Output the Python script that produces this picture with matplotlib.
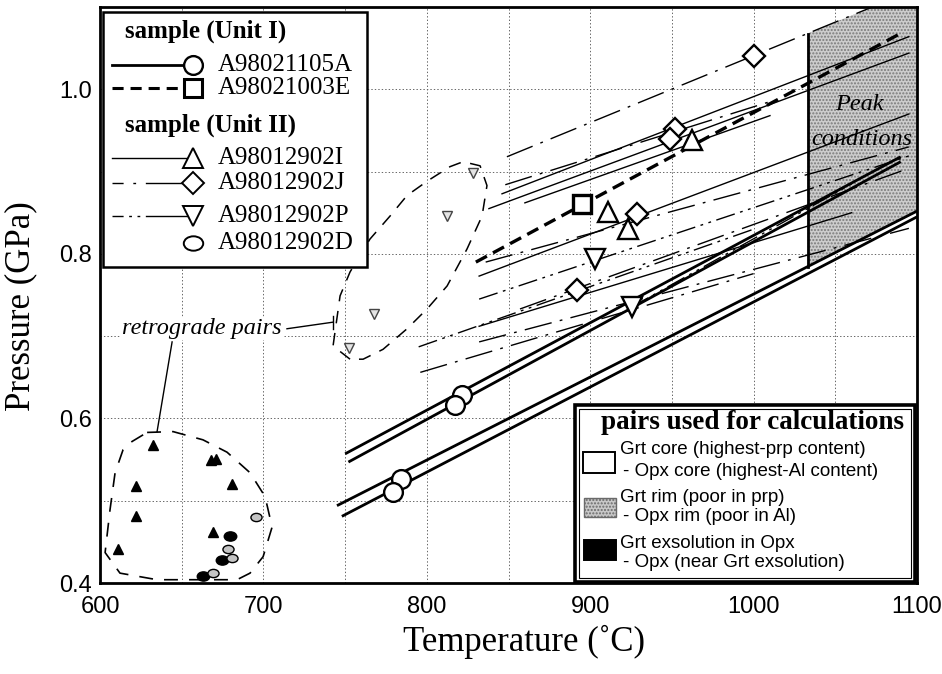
import numpy as np
import matplotlib
matplotlib.use('Agg')
import matplotlib.pyplot as plt
from matplotlib.patches import Rectangle, Polygon
from matplotlib.path import Path
from matplotlib.transforms import Affine2D

plt.rcParams['lines.scale_dashes'] = False

SERIF = ['Liberation Serif', 'DejaVu Serif']
SANS = ['Liberation Sans', 'DejaVu Sans']

# each line: (T1, P1, T2, P2)
# A98021105A - thick double lines (Unit I)
a_lines = [(750, 0.557, 1090, 0.918), (752, 0.547, 1090, 0.912),
           (745, 0.494, 1100, 0.852), (748, 0.481, 1100, 0.845)]
a_T = [821.5, 817, 784, 779]
a_P = [0.628, 0.616, 0.527, 0.510]

# A98021003E - thick dashed
e_lines = [(830, 0.790, 1090, 1.068)]
e_T = [895]
e_P = [0.860]

# A98012902I - thin solid
i_lines = [(846, 0.873, 1095, 1.064), (838, 0.855, 1095, 1.044),
           (832, 0.773, 1095, 0.970), (832, 0.712, 1060, 0.850),
           (860, 0.862, 1010, 0.968)]
i_T = [911, 923, 962]
i_P = [0.851, 0.830, 0.938]

# A98012902J - dash-dot
j_lines = [(849, 0.918, 1075, 1.102), (848, 0.884, 1010, 0.985),
           (857, 0.733, 1095, 0.904), (836, 0.790, 1095, 0.930),
           (796, 0.656, 1000, 0.776), (832, 0.693, 1095, 0.831)]
j_T = [1000, 952, 949, 928.6, 892]
j_P = [1.040, 0.952, 0.940, 0.849, 0.756]

# A98012902P - dash-dot-dot
p_lines = [(832, 0.745, 1095, 0.919), (795, 0.687, 1000, 0.830),
           (925, 0.735, 1060, 0.885)]
p_T = [903, 925.4]
p_P = [0.794, 0.735]
p_rim_T = [828.3, 812.4, 767.7, 752.4]
p_rim_P = [0.898, 0.846, 0.727, 0.685]

# exsolution pairs (filled triangles) and A98012902D
ex_tri_T = [632.2, 622, 622, 611.2, 667.7, 671, 680.6, 669.4]
ex_tri_P = [0.568, 0.518, 0.481, 0.441, 0.549, 0.551, 0.520, 0.462]
d_ex_T = [679.6, 674.9, 663.2]
d_ex_P = [0.457, 0.428, 0.409]
d_rim_T = [695.5, 678.5, 680.6, 669.0]
d_rim_P = [0.480, 0.441, 0.431, 0.412]

# retrograde outlines
loop_low_T = [628.8, 644.7, 663.0, 677.7, 691.8, 701.0, 705.3, 699.8, 691.8, 683.8,
              634.9, 612.2, 603.1, 606.1, 609.2, 614.1, 619.6, 628.8]
loop_low_P = [0.583, 0.584, 0.574, 0.559, 0.534, 0.505, 0.468, 0.432, 0.412, 0.404,
              0.404, 0.412, 0.437, 0.489, 0.534, 0.562, 0.572, 0.583]
loop_up_T = [753.0, 742.6, 746.9, 753.0, 765.2, 777.5, 787.9, 800.7, 814.2, 822.2,
             832.6, 836.8, 833.8, 824.6, 812.4, 800.1, 787.9, 773.2, 761.0, 753.0]
loop_up_P = [0.672, 0.688, 0.749, 0.778, 0.818, 0.846, 0.871, 0.889, 0.906, 0.912,
             0.907, 0.883, 0.846, 0.806, 0.761, 0.733, 0.709, 0.684, 0.672, 0.672]

peak_T0 = 1033

fig = plt.figure(figsize=(9.42, 6.74), dpi=100)
ax = fig.add_axes([0.1062, 0.135, 0.8673, 0.8546])
ax.set_xlim(600, 1100)
ax.set_ylim(0.4, 1.1)

ax.set_xticks([600, 700, 800, 900, 1000, 1100])
ax.set_xticks([650, 750, 850, 950, 1050], minor=True)
ax.set_yticks([0.4, 0.6, 0.8, 1.0])
ax.set_yticklabels(['0.4', '0.6', '0.8', '1.0'])
ax.set_yticks([0.5, 0.7, 0.9], minor=True)
ax.set_axisbelow(True)
ax.grid(which='both', color='#666666', ls=(0, (1, 1.5)), lw=0.7)
ax.tick_params(which='both', length=0)
ax.tick_params(axis='x', pad=9)
ax.tick_params(axis='y', pad=6)
for lab in ax.get_xticklabels() + ax.get_yticklabels():
    lab.set_family(SANS)
    lab.set_fontsize(17)
for s in ax.spines.values():
    s.set_linewidth(2)

# peak conditions area
a_low = a_lines[2]
j_top = j_lines[0]
tt = np.linspace(peak_T0, 1100, 60)
lower = np.interp(tt, [a_low[0], a_low[2]], [a_low[1], a_low[3]])
upper = np.minimum(np.interp(tt, [j_top[0], j_top[2]], [j_top[1], j_top[3]]), 1.1)
poly = np.column_stack([np.r_[tt, tt[::-1]], np.r_[lower, upper[::-1]]])
ax.add_patch(Polygon(poly, closed=True, facecolor='#cdcdcd', edgecolor='#7a7a7a',
                     hatch='.....', lw=0, zorder=1))
ax.plot([peak_T0, peak_T0], [lower[0], upper[0]], color='k', lw=2, zorder=3)
ax.text(1065, 0.982, 'Peak', family=SERIF, style='italic', fontsize=17.5,
        ha='center', va='center', zorder=6)
ax.text(1066, 0.939, 'conditions', family=SERIF, style='italic', fontsize=17.5,
        ha='center', va='center', zorder=6)

thick_solid = dict(color='k', lw=2.0, solid_capstyle='butt', zorder=4)
thick_dash = dict(color='k', lw=2.4, dashes=(9, 5), zorder=4)
thin_solid = dict(color='k', lw=1.0, zorder=3)
dash_dot = dict(color='k', lw=1.0, dashes=(20, 6, 2, 6), zorder=3)
dash_dot_dot = dict(color='k', lw=1.0, dashes=(14, 4, 2, 4, 2, 4), zorder=3)


def seg(line, style):
    ax.plot([line[0], line[2]], [line[1], line[3]], **style)


for ln in a_lines:
    seg(ln, thick_solid)
for ln in e_lines:
    seg(ln, thick_dash)
for ln in i_lines:
    seg(ln, thin_solid)
for ln in j_lines:
    seg(ln, dash_dot)
for ln in p_lines:
    seg(ln, dash_dot_dot)

ell = Path.unit_circle().transformed(Affine2D().scale(1.35, 1.0))

open_mk = dict(ls='none', mfc='white', mec='k', mew=1.7, zorder=5)
ax.plot(a_T, a_P, marker='o', ms=13.5, **open_mk)
ax.plot(e_T, e_P, marker='s', ms=13, ls='none', mfc='white', mec='k', mew=2.4, zorder=5)
ax.plot(i_T, i_P, marker='^', ms=14, **open_mk)
ax.plot(j_T, j_P, marker='D', ms=11, **open_mk)
ax.plot(p_T, p_P, marker='v', ms=14, **open_mk)
ax.plot(p_rim_T, p_rim_P, marker='v', ms=7, ls='none', mfc='#e4e4e4', mec='#444444',
        mew=1.0, zorder=5)
ax.plot(ex_tri_T, ex_tri_P, marker='^', ms=7, ls='none', color='k', zorder=5)
ax.plot(d_ex_T, d_ex_P, marker=ell, ms=9, ls='none', color='k', zorder=5)
ax.plot(d_rim_T, d_rim_P, marker=ell, ms=8, ls='none', mfc='#c4c4c4', mec='k',
        mew=1.0, zorder=5)

# retrograde outlines
ax.plot(loop_low_T, loop_low_P, color='k', lw=1.2, dashes=(10, 8), zorder=3)
ax.plot(loop_up_T, loop_up_P, color='k', lw=1.1, dashes=(9, 7), zorder=3)
ax.text(662.4, 0.709, 'retrograde pairs', family=SERIF, style='italic', fontsize=17.5,
        ha='center', va='center', zorder=6,
        bbox=dict(facecolor='white', edgecolor='none', pad=0.5))
ax.plot([714.4, 742.6], [0.709, 0.717], color='k', lw=1.0, zorder=6)
ax.plot([742.6, 742.6], [0.709, 0.725], color='k', lw=1.0, zorder=6)
ax.plot([644.1, 634.9], [0.693, 0.584], color='k', lw=1.0, zorder=6)

# sample legend (top left)
tr = ax.transAxes
ax.add_patch(Rectangle((0.004, 0.549), 0.323, 0.442, transform=tr, facecolor='white',
                       edgecolor='k', lw=1.8, zorder=10))
leg_x0, leg_x1, leg_mx, leg_tx = 0.0147, 0.110, 0.114, 0.144
ax.text(0.0306, 0.957, 'sample (Unit I)', transform=tr, family=SERIF, weight='bold',
        fontsize=18, ha='left', va='center', zorder=11)
ax.text(0.0306, 0.795, 'sample (Unit II)', transform=tr, family=SERIF, weight='bold',
        fontsize=18, ha='left', va='center', zorder=11)
leg_rows = [
    (0.899, 'A98021105A', dict(color='k', lw=2.0), 'o', 13.5, 1.7),
    (0.859, 'A98021003E', dict(color='k', lw=2.2, dashes=(8, 5)), 's', 13, 2.2),
    (0.738, 'A98012902I', dict(color='k', lw=1.0), '^', 14, 1.4),
    (0.694, 'A98012902J', dict(color='k', lw=1.0, dashes=(8, 7, 2, 7, 40, 0)), 'D', 11, 1.4),
    (0.637, 'A98012902P', dict(color='k', lw=1.0, dashes=(8, 4, 2, 4, 2, 4, 40, 0)), 'v', 14, 1.4),
]
for y, name, st, mk, ms, mew in leg_rows:
    ax.plot([leg_x0, leg_x1], [y, y], transform=tr, clip_on=False, zorder=11, **st)
    ax.plot([leg_mx], [y], transform=tr, marker=mk, ms=ms, mfc='white', mec='k',
            mew=mew, ls='none', clip_on=False, zorder=12)
    ax.text(leg_tx, y, name, transform=tr, family=SERIF, fontsize=18, ha='left',
            va='center', zorder=11)
ax.plot([leg_mx], [0.590], transform=tr, marker=ell, ms=14, mfc='white', mec='k',
        mew=1.4, ls='none', clip_on=False, zorder=12)
ax.text(leg_tx, 0.590, 'A98012902D', transform=tr, family=SERIF, fontsize=18,
        ha='left', va='center', zorder=11)

# pairs legend (bottom right)
ax.add_patch(Rectangle((0.581, 0.002), 0.417, 0.307, transform=tr, facecolor='white',
                       edgecolor='k', lw=2.6, zorder=10))
ax.add_patch(Rectangle((0.586, 0.009), 0.407, 0.293, transform=tr, facecolor='none',
                       edgecolor='k', lw=0.8, zorder=10))
ax.text(0.798, 0.278, 'pairs used for calculations', transform=tr, family=SERIF,
        weight='bold', fontsize=19.5, ha='center', va='center', zorder=11)
ax.add_patch(Rectangle((0.591, 0.191), 0.039, 0.0365, transform=tr, facecolor='white',
                       edgecolor='k', lw=1.4, zorder=11))
ax.add_patch(Rectangle((0.592, 0.1146), 0.039, 0.033, transform=tr, facecolor='#c8c8c8',
                       edgecolor='#6a6a6a', hatch='.....', lw=1.0, zorder=11))
ax.add_patch(Rectangle((0.592, 0.040), 0.039, 0.035, transform=tr, facecolor='black',
                       edgecolor='k', lw=1.4, zorder=11))
pair_text = [(0.636, 0.231, 'Grt core (highest-prp content)'),
             (0.640, 0.193, '- Opx core (highest-Al content)'),
             (0.636, 0.149, 'Grt rim (poor in prp)'),
             (0.640, 0.115, '- Opx rim (poor in Al)'),
             (0.636, 0.069, 'Grt exsolution in Opx'),
             (0.640, 0.036, '- Opx (near Grt exsolution)')]
for x, y, s in pair_text:
    ax.text(x, y, s, transform=tr, family=SANS, fontsize=13.5, ha='left', va='center',
            zorder=11)

fig.text(0.556, 0.047, 'Temperature (˚C)', family=SERIF, fontsize=25, ha='center',
         va='center')
fig.text(0.022, 0.546, 'Pressure (GPa)', family=SERIF, fontsize=25, ha='center',
         va='center', rotation=90)

fig.savefig('out.png', dpi=100)
